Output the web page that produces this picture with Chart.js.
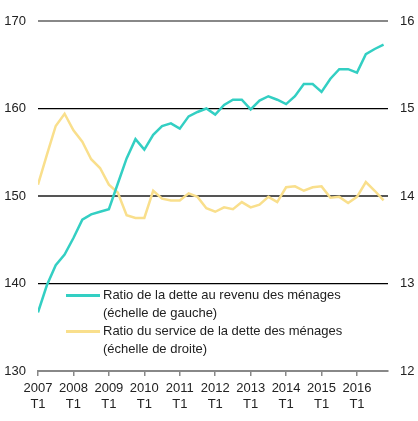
<!DOCTYPE html>
<html>
<head>
<meta charset="utf-8">
<script src="https://cdn.jsdelivr.net/npm/chart.js@4/dist/chart.umd.min.js"></script>
<style>
  body { margin: 0; background: #fff; }
  #wrap { position: relative; width: 418px; height: 421px; }
  #legende { position: absolute; left: 66px; top: 286px; font: 13px "Liberation Sans", Arial, sans-serif; color: #222; line-height: 17.5px; }
  .item { display: flex; align-items: flex-start; margin-bottom: 1px; }
  .trait { width: 34px; height: 3px; margin-top: 8px; margin-right: 3px; }
</style>
</head>
<body>
<div id="wrap">
  <canvas id="graphique" width="418" height="421"></canvas>
  <div id="legende"></div>
</div>
<script>
  // trimestres 2007 T1 a 2016 T4
  var annees = ['2007', '2008', '2009', '2010', '2011', '2012', '2013', '2014', '2015', '2016']

  var ratioDette = [
    136.7, 139.8, 142.1, 143.3, 145.2, 147.3, 147.9, 148.2,
    148.5, 151.4, 154.3, 156.5, 155.3, 157.0, 158.0, 158.3,
    157.7, 159.1, 159.6, 160.0, 159.3, 160.4, 161.0, 161.0,
    159.9, 160.9, 161.4, 161.0, 160.5, 161.4, 162.8, 162.8,
    161.9, 163.4, 164.5, 164.5, 164.1, 166.2, 166.8, 167.3
  ]

  var ratioService = [
    14.13, 14.47, 14.80, 14.94, 14.75, 14.62, 14.42, 14.32,
    14.13, 14.04, 13.78, 13.75, 13.75, 14.06, 13.97, 13.95,
    13.95, 14.03, 13.99, 13.86, 13.82, 13.87, 13.85, 13.93,
    13.87, 13.90, 13.99, 13.93, 14.10, 14.11, 14.06, 14.10,
    14.11, 13.98, 13.99, 13.92, 13.99, 14.16, 14.06, 13.95
  ]

  var nomsSeries = [
    ['Ratio de la dette au revenu des ménages', '(échelle de gauche)'],
    ['Ratio du service de la dette des ménages', '(échelle de droite)']
  ]
  var couleurs = ['#33cfc3', '#f9df8c']

  function points(valeurs) {
    return valeurs.map(function (v, i) { return { x: i, y: v } })
  }

  Chart.defaults.font.family = '"Liberation Sans", Arial, sans-serif'
  Chart.defaults.font.size = 13
  Chart.defaults.color = '#222'

  const config = {
    type: 'line',
    data: {
      datasets: [{
        label: nomsSeries[0].join(' '),
        data: points(ratioDette),
        yAxisID: 'yGauche',
        borderColor: couleurs[0],
        borderWidth: 2.5,
        pointRadius: 0,
        tension: 0
      },
      {
        label: nomsSeries[1].join(' '),
        data: points(ratioService),
        yAxisID: 'yDroite',
        borderColor: couleurs[1],
        borderWidth: 2.5,
        pointRadius: 0,
        tension: 0
      }]
    },
    options: {
      responsive: false,
      animation: false,
      layout: { padding: { top: 21, bottom: 0, left: 0, right: 0 } },
      plugins: { legend: { display: false }, tooltip: { enabled: false } },
      scales: {
        x: {
          type: 'linear',
          min: 0,
          max: 39.5,
          afterBuildTicks: function (scale) {
            scale.ticks = annees.map(function (a, i) { return { value: i * 4 } })
          },
          afterFit: function (scale) { scale.height = 50 },
          ticks: {
            autoSkip: false,
            maxRotation: 0,
            padding: 4,
            font: { lineHeight: 1.25 },
            callback: function (value) { return [annees[value / 4], 'T1'] }
          },
          grid: { drawOnChartArea: false, drawTicks: true, tickLength: 5, color: '#888', lineWidth: 1.5 },
          border: { color: '#888', width: 2 }
        },
        yGauche: {
          position: 'left',
          min: 130,
          max: 170,
          ticks: { stepSize: 10, padding: 12 },
          afterFit: function (scale) { scale.width = 38 },
          grid: {
            drawTicks: false,
            color: function (ctx) {
              var v = ctx.tick.value
              if (v == 170) return '#888'
              if (v == 150) return '#555'
              return '#000'
            },
            lineWidth: function (ctx) {
              var v = ctx.tick.value
              if (v == 170 || v == 150) return 2
              return 1.2
            }
          },
          border: { display: false }
        },
        yDroite: {
          position: 'right',
          min: 12,
          max: 16,
          ticks: { stepSize: 1, padding: 12 },
          afterFit: function (scale) { scale.width = 30 },
          grid: { drawOnChartArea: false, drawTicks: false },
          border: { display: false }
        }
      }
    }
  }

  const monGraphique = new Chart(document.getElementById('graphique'), config)

  // legende en HTML
  var legende = document.getElementById('legende')
  nomsSeries.forEach(function (nom, i) {
    var item = document.createElement('div')
    item.className = 'item'
    item.innerHTML = '<div class="trait" style="background:' + couleurs[i] + '"></div><div>' + nom[0] + '<br>' + nom[1] + '</div>'
    legende.appendChild(item)
  })
</script>
</body>
</html>
